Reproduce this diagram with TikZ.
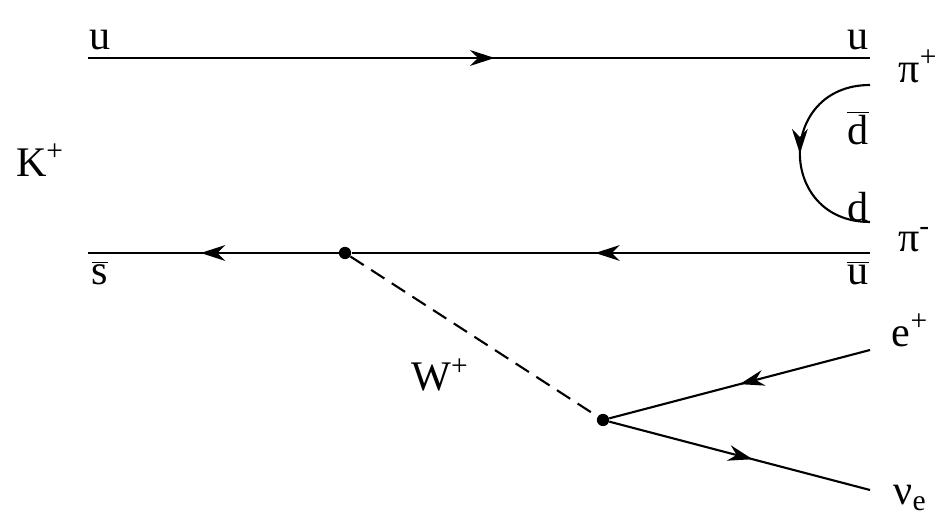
\documentclass[tikz,border=0pt]{standalone}
\usepackage{fontspec}
\setmainfont{Liberation Serif}
\usetikzlibrary{decorations.markings,arrows.meta}
\newcommand{\bartxt}[1]{$\overline{\mbox{#1}}$}
\begin{document}
\begin{tikzpicture}[x=0.02cm, y=-0.02cm, font=\fontsize{24}{28}\selectfont]
  \tikzset{fermion/.style={line width=1.2pt, postaction={decorate},
             decoration={markings, mark=at position #1 with {\arrow{Stealth[length=14pt,width=9pt]}}}},
           fermion/.default=0.5,
           vertex/.style={circle, fill, inner sep=0pt, minimum size=7pt},
           lbl/.style={inner sep=0pt}}
  \useasboundingbox (0,0) rectangle (944,523);
  % quark lines
  \coordinate (ul) at (88,58);
  \coordinate (ur) at (870,58);
  \coordinate (sl) at (88,253);
  \coordinate (sr) at (870,253);
  \node[vertex] (v1) at (345,253) {};
  \node[vertex] (v2) at (603,420) {};
  \coordinate (dt) at (870,85);
  \coordinate (db) at (870,222);
  \coordinate (ep) at (870,350);
  \coordinate (nu) at (870,490);
  \draw[fermion=0.52] (ul) -- (ur);
  \draw[fermion=0.53] (sr) -- (v1);
  \draw[fermion=0.55] (v1) -- (sl);
  \draw[fermion=0.5] (dt) to[out=180, in=180, looseness=1.75] (db);
  \draw[line width=1.2pt, dash pattern=on 9pt off 5pt] (v1) -- (v2);
  \draw[fermion=0.5] (ep) -- (v2);
  \draw[fermion=0.55] (v2) -- (nu);
  % labels
  \node[lbl] (lu1) at (100,40) {u};
  \node[lbl] (lu2) at (858,40) {u};
  \node[lbl] (lpip) at (918,66) {π\textsuperscript{+}};
  \node[lbl] (ldb) at (858,128) {\bartxt{d}};
  \node[lbl] (ld) at (858,207) {d};
  \node[lbl] (lpim) at (914,240) {π\textsuperscript{-}};
  \node[lbl] (ls) at (100,273) {\bartxt{s}};
  \node[lbl] (lub) at (858,273) {\bartxt{u}};
  \node[lbl] (lK) at (40,160) {K\textsuperscript{+}};
  \node[lbl] (lW) at (440,375) {W\textsuperscript{+}};
  \node[lbl] (le) at (910,330) {e\textsuperscript{+}};
  \node[lbl] (lnu) at (910,498) {ν\textsubscript{e}};
\end{tikzpicture}
\end{document}
